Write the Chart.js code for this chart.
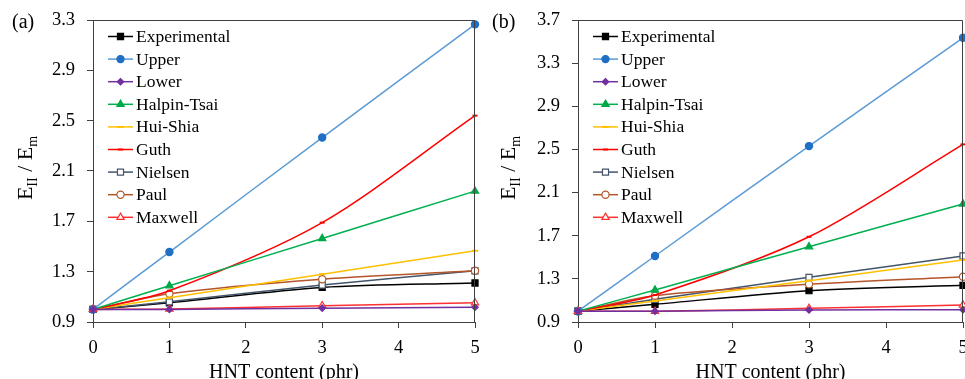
<!DOCTYPE html>
<html>
<head>
<meta charset="utf-8">
<script src="https://cdn.jsdelivr.net/npm/chart.js@4.4.1/dist/chart.umd.min.js"></script>
<style>
body { margin: 0; background: #fff; width: 965px; height: 379px; overflow: hidden; position: relative; }
.panel { position: absolute; top: 0; height: 379px; }
</style>
</head>
<body>
<div class="panel" style="left:0;width:480px"><canvas id="chartA"></canvas></div>
<div class="panel" style="left:480px;width:485px"><canvas id="chartB"></canvas></div>
<script>
// x values (HNT content, phr) and axis ticks
var hntContent = [0, 1, 3, 5];
var xTicks = [0, 1, 2, 3, 4, 5];
var yTicksA = [0.9, 1.3, 1.7, 2.1, 2.5, 2.9, 3.3];
var yTicksB = [0.9, 1.3, 1.7, 2.1, 2.5, 2.9, 3.3, 3.7];

var seriesNames = ['Experimental', 'Upper', 'Lower', 'Halpin-Tsai', 'Hui-Shia', 'Guth', 'Nielsen', 'Paul', 'Maxwell'];

// panel (a)
var experimentalA = [1.0, 1.053, 1.175, 1.21];
var upperA        = [1.0, 1.456, 2.366, 3.265];
var lowerA        = [1.0, 1.0, 1.01, 1.017];
var halpinTsaiA   = [1.0, 1.188, 1.564, 1.94];
var huiShiaA      = [1.0, 1.093, 1.28, 1.466];
var guthA         = [1.0, 1.148, 1.69, 2.54];
var nielsenA      = [1.0, 1.06, 1.194, 1.307];
var paulA         = [1.0, 1.125, 1.24, 1.307];
var maxwellA      = [1.0, 1.003, 1.03, 1.053];

// panel (b)
var experimentalB = [1.0, 1.064, 1.19, 1.24];
var upperB        = [1.0, 1.512, 2.531, 3.535];
var lowerB        = [1.0, 1.0, 1.011, 1.014];
var halpinTsaiB   = [1.0, 1.197, 1.598, 1.994];
var huiShiaB      = [1.0, 1.095, 1.283, 1.475];
var guthB         = [1.0, 1.15, 1.69, 2.547];
var nielsenB      = [1.0, 1.11, 1.314, 1.512];
var paulB         = [1.0, 1.144, 1.249, 1.32];
var maxwellB      = [1.0, 1.0, 1.027, 1.058];

var FONT = "'Liberation Serif', 'Times New Roman', serif";

// line colour, marker colour, marker style, filled?, radius
var styles = [
    { line: '#000000', mark: '#000000', point: 'rect',     fill: true,  r: 4.3 },
    { line: '#5b9bd5', mark: '#1f6fc5', point: 'circle',   fill: true,  r: 3.6 },
    { line: '#7030a0', mark: '#7030a0', point: 'rectRot',  fill: true,  r: 3.2 },
    { line: '#00b050', mark: '#00a848', point: 'triangle', fill: true,  r: 4.2 },
    { line: '#ffc000', mark: '#ffc000', point: 'line',     fill: true,  r: 3.2 },
    { line: '#ff0000', mark: '#ff0000', point: 'line',     fill: true,  r: 2.5 },
    { line: '#44546a', mark: '#44546a', point: 'rect',     fill: false, r: 4.3 },
    { line: '#b5562a', mark: '#b5562a', point: 'circle',   fill: false, r: 3.6 },
    { line: '#ff3030', mark: '#ff3030', point: 'triangle', fill: false, r: 4.2 }
];

function makeDatasets(seriesList) {
    // draw order: lower ones first so Experimental sits on top
    var order = [2, 8, 1, 3, 5, 4, 7, 6, 0];
    var sets = [];
    seriesList.forEach(function(vals, i) {
        var s = styles[i];
        sets.push({
            label: seriesNames[i],
            data: hntContent.map(function(x, k) { return { x: x, y: vals[k] }; }),
            borderColor: s.line,
            borderWidth: 1.5,
            tension: 0.3,
            pointStyle: s.point,
            pointRadius: s.r,
            pointBorderColor: s.mark,
            pointBackgroundColor: s.fill ? s.mark : '#ffffff',
            pointBorderWidth: s.point === 'line' ? 2 : 1.2,
            clip: false,
            order: order.indexOf(i)
        });
    });
    return sets;
}

function drawMarker(ctx, s, x, y) {
    var opts = { pointStyle: s.point, radius: s.r, rotation: 0, borderWidth: s.point === 'line' ? 2 : 1.2 };
    ctx.save();
    ctx.strokeStyle = s.mark;
    ctx.fillStyle = s.fill ? s.mark : '#ffffff';
    ctx.lineWidth = opts.borderWidth;
    Chart.helpers.drawPoint(ctx, opts, x, y);
    ctx.restore();
}

var decorPlugin = {
    id: 'decor',
    afterDraw: function(chart, args, o) {
        var ctx = chart.ctx;
        var a = chart.chartArea;
        ctx.save();
        // frame on top and right
        ctx.strokeStyle = '#404040';
        ctx.lineWidth = 1;
        ctx.beginPath();
        ctx.moveTo(a.left, a.top + 0.5);
        ctx.lineTo(a.right - 0.5, a.top + 0.5);
        ctx.lineTo(a.right - 0.5, a.bottom);
        ctx.stroke();

        // legend
        ctx.font = '17.5px ' + FONT;
        ctx.textBaseline = 'middle';
        ctx.textAlign = 'left';
        for (var i = 0; i < seriesNames.length; i++) {
            var y = a.top + 16.5 + i * 22.6;
            var x0 = a.left + 15;
            var s = styles[i];
            ctx.strokeStyle = s.line;
            ctx.lineWidth = 1.5;
            ctx.beginPath();
            ctx.moveTo(x0, y);
            ctx.lineTo(x0 + 25, y);
            ctx.stroke();
            drawMarker(ctx, s, x0 + 12.5, y);
            ctx.fillStyle = '#000';
            ctx.fillText(seriesNames[i], x0 + 28, y + 1);
        }

        // panel letter
        ctx.font = '20px ' + FONT;
        ctx.fillStyle = '#000';
        ctx.textBaseline = 'middle';
        ctx.fillText(o.letter, 12, 23);

        // x title
        ctx.textAlign = 'center';
        ctx.textBaseline = 'alphabetic';
        ctx.font = '20px ' + FONT;
        ctx.fillText('HNT content (phr)', (a.left + a.right) / 2, 378);

        // y title with subscripts
        var parts = [
            { t: 'E', size: 22, dy: 0 },
            { t: 'II', size: 14, dy: 5 },
            { t: ' / E', size: 22, dy: 0 },
            { t: 'm', size: 14, dy: 5 }
        ];
        var total = 0;
        parts.forEach(function(p) { ctx.font = p.size + 'px ' + FONT; p.w = ctx.measureText(p.t).width; total += p.w; });
        ctx.translate(o.titleX, 168);
        ctx.rotate(-Math.PI / 2);
        ctx.textAlign = 'left';
        ctx.textBaseline = 'alphabetic';
        var px = -total / 2;
        parts.forEach(function(p) {
            ctx.font = p.size + 'px ' + FONT;
            ctx.fillText(p.t, px, 7 + p.dy);
            px += p.w;
        });
        ctx.restore();
    }
};

function makeChart(id, seriesList, yTicks, leftW, rightPad, letter, titleX) {
    var ctx = document.getElementById(id).getContext('2d');
    return new Chart(ctx, {
        type: 'line',
        data: { datasets: makeDatasets(seriesList) },
        plugins: [decorPlugin],
        options: {
            responsive: true,
            maintainAspectRatio: false,
            animation: false,
            events: [],
            layout: { autoPadding: false, padding: { top: 20, right: rightPad, left: 0, bottom: 0 } },
            plugins: {
                legend: { display: false },
                tooltip: { enabled: false },
                decor: { letter: letter, titleX: titleX }
            },
            scales: {
                x: {
                    type: 'linear',
                    min: 0,
                    max: 5,
                    afterBuildTicks: function(scale) { scale.ticks = xTicks.map(function(v) { return { value: v }; }); },
                    afterFit: function(scale) {
                        scale.height = 57;
                        scale.paddingLeft = 0;
                        scale.paddingRight = 0;
                    },
                    grid: { display: true, drawOnChartArea: false, drawTicks: true, tickLength: 6, color: '#404040' },
                    border: { color: '#404040', width: 1 },
                    ticks: { color: '#000', font: { family: FONT, size: 18.5 }, padding: 9, maxRotation: 0 }
                },
                y: {
                    min: yTicks[0],
                    max: yTicks[yTicks.length - 1],
                    afterBuildTicks: function(scale) { scale.ticks = yTicks.map(function(v) { return { value: v }; }); },
                    afterFit: function(scale) {
                        scale.width = leftW;
                        scale.paddingTop = 0;
                        scale.paddingBottom = 0;
                    },
                    grid: { display: true, drawOnChartArea: false, drawTicks: true, tickLength: 6, color: '#404040' },
                    border: { color: '#404040', width: 1 },
                    ticks: {
                        color: '#000',
                        font: { family: FONT, size: 18.5 },
                        padding: 12,
                        callback: function(v) { return v.toFixed(1); }
                    }
                }
            }
        }
    });
}

makeChart('chartA',
    [experimentalA, upperA, lowerA, halpinTsaiA, huiShiaA, guthA, nielsenA, paulA, maxwellA],
    yTicksA, 93, 5, '(a)', 25);
makeChart('chartB',
    [experimentalB, upperB, lowerB, halpinTsaiB, huiShiaB, guthB, nielsenB, paulB, maxwellB],
    yTicksB, 98, 2, '(b)', 28);
</script>
</body>
</html>
